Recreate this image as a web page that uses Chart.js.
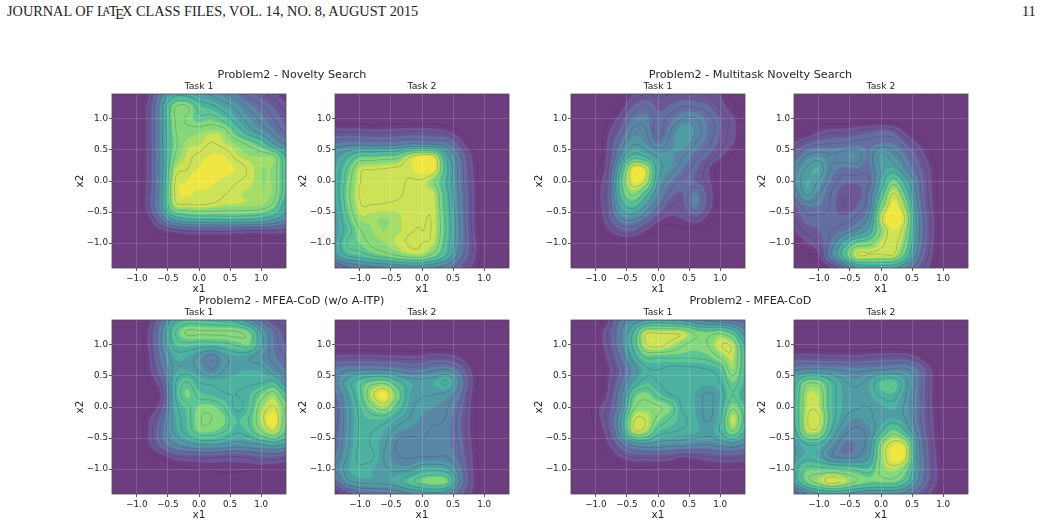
<!DOCTYPE html>
<html>
<head>
<meta charset="utf-8">
<title>Problem2 density plots</title>
<script src="https://cdn.jsdelivr.net/npm/chart.js"></script>
<style>
  html, body { margin: 0; background: #fff; }
  body { position: relative; width: 1040px; height: 524px; overflow: hidden; }
  canvas { position: absolute; }
  .head { position: absolute; top: 3px; font: 14.3px "Liberation Serif", serif; color: #222; white-space: nowrap; }
  .head i { font-style: normal; position: relative; }
  .sup { position: absolute; width: 400px; text-align: center; font: 11.2px "DejaVu Sans", sans-serif; color: #262626; line-height: 14px; }
</style>
</head>
<body>
<div class="head" style="left:7px">JOURNAL OF L<i style="font-size:10.2px;top:-2px;margin-left:-3px;margin-right:-1.5px">A</i>T<i style="top:3px;margin-left:-2px;margin-right:-2px">E</i>X CLASS FILES, VOL. 14, NO. 8, AUGUST 2015</div>
<div class="head" style="left:1022px">11</div>
<script>
// x and y positions of the density samples
const gridAxis = [-1.4, -1.2, -1.0, -0.8, -0.6, -0.4, -0.2, 0, 0.2, 0.4, 0.6, 0.8, 1.0, 1.2, 1.4];
const gridRowsY = [1.4, 1.2, 1.0, 0.8, 0.6, 0.4, 0.2, 0, -0.2, -0.4, -0.6, -0.8, -1.0, -1.2, -1.4];
const tickValues = [-1, -0.5, 0, 0.5, 1];

// density per panel, top row first, in contour level units
const noveltyTask1 = [
  [0,0,0,1.0,3.5,5.2,5.2,4.7,4.4,3.8,3.0,2.4,1.8,1.2,.7],
  [0,0,0,1.5,4.3,7.3,7.6,6.2,5.7,5,4.3,3.3,2.6,2,1.2],
  [0,0,0,1.5,4.3,7.4,7.4,6.7,6.9,6.2,5,4.1,3.3,2.5,1.8],
  [0,0,0,1.5,4.3,7.3,7.7,7.9,8.1,7.9,6.4,5,4.1,3.2,2.3],
  [0,0,0,1.5,4.3,7.1,8.1,8.2,8.6,8.3,7.9,7.3,6.3,4.6,3.4],
  [0,0,0,1.5,4.2,7.4,8.3,8.7,9.05,9,8.35,8.05,7.95,7.75,5.6],
  [0,0,0,1.5,4.2,8,8.5,9.05,9.5,9.3,8.95,8.45,8,7.85,6.1],
  [0,0,0,1.5,4.3,8.4,9,9.5,9.15,8.85,8.6,8.4,8,7.85,6.1],
  [0,0,0,1.6,4.4,8.45,9.1,8.8,8.75,8.6,8.35,8.15,8,7.85,5.9],
  [0,0,0,1.7,4.4,8,8.35,8.45,8.35,8.15,8.1,8.05,7.95,7.2,5],
  [0,0,0,.9,3,5,5.7,5.9,5.9,6,6,5.9,5.6,5,4],
  [0,0,0,.3,.9,1.3,1.6,1.7,1.7,1.7,1.6,1.5,1.5,1.5,1.4],
  [0,0,0,0,0,0,0,0,0,0,0,0,0,0,0],
  [0,0,0,0,0,0,0,0,0,0,0,0,0,0,0],
  [0,0,0,0,0,0,0,0,0,0,0,0,0,0,0]
];
const noveltyTask2 = [
  [0,0,0,0,0,0,0,0,0,0,0,0,0,0,0],
  [0,0,0,0,0,0,0,0,0,0,0,0,0,0,0],
  [0,0,0,0,0,0,0,0,0,0,0,0,0,0,0],
  [1.4,1.4,1.4,1.3,1.3,1.4,1.5,1.5,1.4,1.1,.5,0,0,0,0],
  [3,3.2,3.2,3.1,3.1,3.2,3.5,3.5,3.3,3,1.6,.3,0,0,0],
  [4.5,5.5,6.6,6.7,6.9,7,8.35,9,8.6,5,2.9,1,0,0,0],
  [5,6.6,8.3,8.45,8.55,8.7,8.85,9.4,9.1,5.8,3.2,1.2,0,0,0],
  [5,7,8.5,8.9,8.9,8.8,8.45,8.45,7.6,5.5,3.2,1.3,0,0,0],
  [5,7.2,8.6,8.9,8.9,8.7,8.4,8.4,8.2,5.8,3.4,1.4,0,0,0],
  [4.8,7,8.45,8.5,8.45,8.4,8.4,8.4,8.3,6,3.5,1.4,0,0,0],
  [4.5,6.5,8.05,8.05,8,8.15,8.45,8.5,8.35,6.2,3.6,1.4,0,0,0],
  [4.6,6,7.4,8,8,8.15,8.5,8.55,8.35,6.3,3.7,1.5,0,0,0],
  [4.8,6.6,7,7.7,8,8.3,8.6,8.55,8.15,6,3.6,1.6,.2,0,0],
  [4.5,5.6,6,6.6,7,7.5,7.9,7.9,7,5.5,3.2,1.5,.2,0,0],
  [1.5,2.5,3,3.3,3.5,3.8,4,4,3.6,3,2,1,.1,0,0]
];
const multitaskTask1 = [
  [0,0,0,0,0,1.1,1.5,1.4,1.5,1.6,1.6,1.5,1,.3,0],
  [0,0,0,0,.6,2,2.6,1.8,2.1,2.5,2.4,2.1,1.4,.6,0],
  [0,0,0,.4,1.5,3,3.2,2.3,2.8,3.5,3.6,2.8,2,1.2,.2],
  [0,0,0,.9,2.2,3.7,3.6,2.1,3.5,4.4,3.9,3,2,1.2,.6],
  [0,0,0,1.2,3,4.4,4,3,3.8,4.3,3.5,2.7,1.8,1.1,.3],
  [0,0,0,1.3,3.8,6,5.4,4.4,4.1,3.6,2.7,2,1.2,.4,0],
  [0,0,.3,1.6,5.5,9,8.6,5,4,3,2.2,1.2,.2,0,0],
  [0,0,.6,1.9,6.3,9,8.4,4.6,3.1,2.3,2,1.3,.1,0,0],
  [0,0,.7,2,6,7.8,6.2,3.8,2.3,2,3.1,1.7,.1,0,0],
  [0,0,.6,1.9,5,6,4.5,2.9,1.5,1.8,3.1,1.6,.1,0,0],
  [0,0,.4,1.6,3.5,3.8,2.8,1.4,.9,1.1,1.6,.8,0,0,0],
  [0,0,.1,.9,1.8,1.9,1,.3,.2,.3,.3,.1,0,0,0],
  [0,0,0,0,.3,.2,0,0,0,0,0,0,0,0,0],
  [0,0,0,0,0,0,0,0,0,0,0,0,0,0,0],
  [0,0,0,0,0,0,0,0,0,0,0,0,0,0,0]
];
const multitaskTask2 = [
  [0,0,0,0,0,0,0,0,0,0,0,0,0,0,0],
  [0,0,0,0,0,0,0,0,0,0,0,0,0,0,0],
  [0,0,0,0,0,0,0,0,0,0,0,0,0,0,0],
  [0,.3,1,1.3,1.3,1.6,1.8,2.1,1.8,.8,.1,0,0,0,0],
  [1.2,2,2.4,2.5,2.6,2.8,2.8,3,3,2,1,.2,0,0,0],
  [2.4,3.6,4,3.6,3.9,4,3,4.8,4,3,1.8,.6,0,0,0],
  [3.5,4.6,5,3.4,2.9,3,2.8,4.6,5,3.6,2.3,1,0,0,0],
  [3.8,5,4.4,2.9,2.2,2.2,2.4,4.8,7,5,2.8,1.1,0,0,0],
  [3,4.8,3.6,2.5,1.6,1.7,2.8,5.8,8.6,6.3,3,1.2,0,0,0],
  [2,3,3,2.4,1.5,2,3,7,9.2,7.5,3.4,1.3,0,0,0],
  [1.5,2.3,2.3,2.3,2.2,2.7,3.8,8.3,9.6,8.3,3.8,1.5,.1,0,0],
  [1,1.7,2,2.5,3,3.7,5,7.6,9,7.8,3.8,1.5,.1,0,0],
  [.4,1,1.6,3,5,6.8,7.2,8.3,8.8,7.3,3.6,1.4,.1,0,0],
  [0,.3,.9,3.4,6,8.4,8.5,8.4,8.4,6.3,3,1.2,.1,0,0],
  [0,0,.1,1,2.4,4.5,5,5,4.8,3.6,2,.9,0,0,0]
];
const mfeaNoItpTask1 = [
  [0,0,0,.8,3,5.3,6,6,5.8,5.6,5.3,4,2.6,1.5,1],
  [0,0,0,1.2,3.6,6.3,7.6,7.6,7.6,7.6,7.6,7,4.6,2.8,1.6],
  [0,0,0,1.2,3.6,5.8,6.2,6,6,6.2,6.6,6.9,4.8,3,2],
  [0,0,0,1,3.2,5,5,4.2,3.1,4.3,4.9,4.6,4,3.2,2.5],
  [0,0,0,.9,2.6,4.7,5,4.4,3.6,4.5,4.9,5,4.9,3.9,3],
  [0,0,0,.5,1.8,5.2,6.5,5.5,5.3,5.2,5.3,5.3,5.4,5.8,4],
  [0,0,0,.2,1.2,5.2,7.1,6.2,5.9,5.6,5.5,5.9,7,7.9,6],
  [0,0,0,.4,1.7,5,6.2,7.1,7.2,6.5,5.3,6,7.9,8.6,7.3],
  [0,0,0,1,2.4,4.8,6,7.4,7.5,7.1,6,6.5,8.2,9.4,7],
  [0,0,0,1.1,2.8,4.6,5.8,7,7,6.5,5.6,6.1,7.4,8.4,6.6],
  [0,0,0,1,2.4,3.6,4.2,4.6,4.7,4.5,4.1,4.3,4.6,5,4.5],
  [0,0,0,.1,.7,1.4,1.6,1.7,1.7,1.5,1.5,1.7,2,2,1.7],
  [0,0,0,0,0,.1,.4,.5,.6,.7,.7,.6,.6,.5,.5],
  [0,0,0,0,0,0,0,0,0,0,0,0,0,0,0],
  [0,0,0,0,0,0,0,0,0,0,0,0,0,0,0]
];
const mfeaNoItpTask2 = [
  [0,0,0,0,0,0,0,0,0,0,0,0,0,0,0],
  [0,0,0,0,0,0,0,0,0,0,0,0,0,0,0],
  [0,0,0,0,0,0,0,0,0,0,0,0,0,0,0],
  [1.3,1.4,1.4,1.4,1.3,1.3,1.2,1.3,1.6,1.5,1,.1,0,0,0],
  [3,3.4,3.5,3.6,3.5,3.3,2.9,3,3.4,3.5,2.6,.9,0,0,0],
  [3.6,5,6.2,7,7.2,5.9,5,4.8,5,5.6,3.6,1.2,0,0,0],
  [2.8,4.6,6.3,8.4,9.2,7.3,5,4.6,4.5,4.2,3,1,0,0,0],
  [2.2,4.2,5.8,7.3,8,6.3,4.8,4.2,4,3.6,2.5,.9,0,0,0],
  [2.2,4.1,5.6,6,5.9,5,4.4,3.9,3.7,3.4,2.2,.9,0,0,0],
  [2.4,4.2,5.6,5.5,5,4.1,3.8,3.7,3.3,3.2,2.2,.9,0,0,0],
  [2.6,4.3,5.6,5.4,4.6,3.4,3.1,3.4,3.2,3.2,2.4,1,0,0,0],
  [3,4.6,5.7,5.6,4.4,3.6,3.4,3.5,3.5,3.5,2.6,1.1,0,0,0],
  [3.6,4.9,5.3,5,4.6,4.3,4.4,5.2,5.3,4.9,3.2,1.2,.1,0,0],
  [2.4,4.2,4.7,4.8,4.8,5.2,6.2,7,7.4,7,3.6,1.3,.1,0,0],
  [.3,1.5,2.4,2.6,2.7,3,3.6,4,4.3,3.8,2.4,1,.1,0,0]
];
const mfeaTask1 = [
  [0,0,0,1,3,4,4.6,5,4.8,4.4,3.9,3.3,3,2.7,2.5],
  [0,0,.5,1.6,3.5,5.6,8.3,8.4,8.4,8.3,7.3,7,7.3,6.3,4],
  [0,0,.5,1.5,3.4,5.8,8.4,8.8,8.3,7.6,7.2,7.5,8.5,8.3,5.5],
  [0,0,.3,1.2,2.8,5,6.6,6.6,6.6,6.6,6.6,6.8,7.6,8.3,6],
  [0,0,0,.9,2.2,4,5.3,5.5,5.2,5.2,5.3,5.5,6,8,5.8],
  [0,0,0,1,2.6,4.8,5.9,5.5,5.2,5.2,5.2,5.2,5.5,7,5.8],
  [0,0,.2,1.2,3.3,6.5,7.2,6.2,5.5,5.2,5,4.4,5,6.5,5.2],
  [0,0,.8,1.6,3.6,7.2,7.8,7.6,7,5.3,5,4.3,5.2,7.3,6],
  [0,0,.7,1.8,4.5,8.3,8.5,7.2,6.4,5.7,5.1,4.4,5.4,8.4,6.3],
  [0,0,.5,1.5,4.2,8.1,8,6,5.6,5.3,5.1,4.8,5.5,7.4,5.5],
  [0,0,.1,1,2.5,3.9,4.3,4.1,3.9,3.9,3.7,3.6,3.9,4.2,3.6],
  [0,0,0,.3,1.1,1.6,1.6,1.7,1.5,1.1,1.3,1.5,1.7,1.7,1.5],
  [0,0,0,0,.1,.4,.4,.3,.2,0,.2,.4,.5,.5,.5],
  [0,0,0,0,0,0,0,0,0,0,0,0,0,0,0],
  [0,0,0,0,0,0,0,0,0,0,0,0,0,0,0]
];
const mfeaTask2 = [
  [0,0,0,0,0,0,0,0,0,0,0,0,0,0,0],
  [0,0,0,0,0,0,0,0,0,0,0,0,0,0,0],
  [0,0,0,0,0,0,0,0,0,0,0,0,0,0,0],
  [1.5,1.6,1.5,1.4,1.4,1.3,1.5,1.6,1.7,1.6,1,.2,0,0,0],
  [3.4,3.7,3.7,3.6,3.4,3.2,3.4,3.5,3.7,3.7,2.8,1.1,.1,0,0],
  [5.3,7.2,7.2,5.8,4.7,4.2,4.9,6,6.2,4.8,3,1.2,.1,0,0],
  [5.5,8.1,8.1,6,4.9,4.8,4.9,5.7,5.9,4.5,2.9,1.2,.1,0,0],
  [5.7,8.2,8.2,6,4.9,4.6,4.5,4.9,5.1,4.3,2.9,1.2,.1,0,0],
  [5.6,8.4,8.7,6.1,4.6,3.9,4.3,4.8,5.1,4.5,2.8,1.3,.2,0,0],
  [5.2,8,8,5.4,3.8,3.3,3.8,5.5,7.2,5.6,3.2,1.4,.2,0,0],
  [4.5,5.5,5.5,4.2,3,3.1,4,7.5,8.9,8.4,3.8,1.6,.3,0,0],
  [4.5,5.2,4.9,3.7,3.3,3.5,4.5,7.7,9.3,8.7,4,1.7,.4,0,0],
  [5.2,6.8,6.8,6.7,6.5,6.3,6,7.7,8.2,7.2,3.9,1.8,.5,0,0],
  [5,7,8,8.9,8.3,7.5,7,7,7.1,6,3.5,1.7,.5,0,0],
  [2,3.5,4.5,4.8,4.7,4.2,3.8,3.8,3.9,3.2,2,1,.2,0,0]
];

// contour thresholds and the viridis fill above each one, base colour first
const bandLevels = [1, 2, 3, 4, 5, 6, 7, 8, 8.25, 9];
const bandColors = ['#6e3d80', '#6c5695', '#656ea1', '#5a86a5', '#519ba5', '#4cb1a1', '#5dc594', '#85d77c', '#a5dd68', '#cde256', '#f0e642'];
const lineLevels = [0.5, 1.5, 2.5, 3.5, 4.5, 5.5, 6.5, 7.5, 8.55];

const panels = [
  { title: 'Task 1', left: 112, top: 94, values: noveltyTask1 },
  { title: 'Task 2', left: 335, top: 94, values: noveltyTask2 },
  { title: 'Task 1', left: 571, top: 94, values: multitaskTask1 },
  { title: 'Task 2', left: 794, top: 94, values: multitaskTask2 },
  { title: 'Task 1', left: 112, top: 320, values: mfeaNoItpTask1 },
  { title: 'Task 2', left: 335, top: 320, values: mfeaNoItpTask2 },
  { title: 'Task 1', left: 571, top: 320, values: mfeaTask1 },
  { title: 'Task 2', left: 794, top: 320, values: mfeaTask2 }
];

const figureTitles = [
  { text: 'Problem2 - Novelty Search', x: 292, y: 75 },
  { text: 'Problem2 - Multitask Novelty Search', x: 750.5, y: 75 },
  { text: 'Problem2 - MFEA-CoD (w/o A-ITP)', x: 291.5, y: 301 },
  { text: 'Problem2 - MFEA-CoD', x: 750.5, y: 301 }
];

const PLOT = 174, AXIS_Y = 38, AXIS_X = 28, TITLE_H = 18, SUBDIV = 8;

function catmull(a, b, c, d, t) {
  return 0.5 * (2 * b + (c - a) * t + (2 * a - 5 * b + 4 * c - d) * t * t + (3 * b - a - 3 * c + d) * t * t * t);
}

// resample the dataset's grid so the contours come out round
function fineGrid(points) {
  const n = gridAxis.length;
  const at = (r, c) => points[Math.max(0, Math.min(n - 1, r)) * n + Math.max(0, Math.min(n - 1, c))].v;
  const size = (n - 1) * SUBDIV + 1;
  const out = [];
  for (let i = 0; i < size; i++) {
    const r = Math.floor(i / SUBDIV), tr = i / SUBDIV - r;
    const row = [];
    for (let j = 0; j < size; j++) {
      const c = Math.floor(j / SUBDIV), tc = j / SUBDIV - c;
      const col = [-1, 0, 1, 2].map(k => catmull(at(r + k, c - 1), at(r + k, c), at(r + k, c + 1), at(r + k, c + 2), tc));
      row.push(Math.max(0, catmull(col[0], col[1], col[2], col[3], tr)));
    }
    out.push(row);
  }
  return out;
}

function fineAxis(values) {
  const out = [];
  for (let i = 0; i < values.length - 1; i++) {
    for (let s = 0; s < SUBDIV; s++) out.push(values[i] + (values[i + 1] - values[i]) * s / SUBDIV);
  }
  out.push(values[values.length - 1]);
  return out;
}

const contourPlugin = {
  id: 'contour',
  beforeDatasetsDraw(chart) {
    const { ctx, chartArea, scales } = chart;
    const grid = fineGrid(chart.data.datasets[0].data);
    const px = fineAxis(gridAxis).map(v => scales.x.getPixelForValue(v));
    const py = fineAxis(gridRowsY).map(v => scales.y.getPixelForValue(v));
    const size = px.length;

    ctx.save();
    ctx.beginPath();
    ctx.rect(chartArea.left, chartArea.top, chartArea.width, chartArea.height);
    ctx.clip();

    ctx.fillStyle = bandColors[0];
    ctx.fillRect(chartArea.left, chartArea.top, chartArea.width, chartArea.height);

    const cellCorners = (i, j) => [
      [px[j], py[i], grid[i][j]], [px[j + 1], py[i], grid[i][j + 1]],
      [px[j + 1], py[i + 1], grid[i + 1][j + 1]], [px[j], py[i + 1], grid[i + 1][j]]
    ];
    const cross = (a, b, level) => {
      const t = (level - a[2]) / (b[2] - a[2]);
      return [a[0] + (b[0] - a[0]) * t, a[1] + (b[1] - a[1]) * t];
    };

    // filled bands, lowest first
    bandLevels.forEach((level, b) => {
      ctx.beginPath();
      for (let i = 0; i < size - 1; i++) {
        for (let j = 0; j < size - 1; j++) {
          const c = cellCorners(i, j);
          const poly = [];
          for (let k = 0; k < 4; k++) {
            const p = c[k], q = c[(k + 1) % 4];
            if (p[2] >= level) poly.push(p);
            if ((p[2] >= level) !== (q[2] >= level)) poly.push(cross(p, q, level));
          }
          if (poly.length < 3) continue;
          ctx.moveTo(poly[0][0], poly[0][1]);
          for (let k = 1; k < poly.length; k++) ctx.lineTo(poly[k][0], poly[k][1]);
          ctx.closePath();
        }
      }
      ctx.fillStyle = bandColors[b + 1];
      ctx.fill();
    });

    // thin contour lines between the band edges
    ctx.beginPath();
    lineLevels.forEach(level => {
      for (let i = 0; i < size - 1; i++) {
        for (let j = 0; j < size - 1; j++) {
          const c = cellCorners(i, j);
          const hits = [];
          for (let k = 0; k < 4; k++) {
            const p = c[k], q = c[(k + 1) % 4];
            if ((p[2] >= level) !== (q[2] >= level)) hits.push(cross(p, q, level));
          }
          for (let h = 0; h + 1 < hits.length; h += 2) {
            ctx.moveTo(hits[h][0], hits[h][1]);
            ctx.lineTo(hits[h + 1][0], hits[h + 1][1]);
          }
        }
      }
    });
    ctx.strokeStyle = 'rgba(40,50,70,0.22)';
    ctx.lineWidth = 0.7;
    ctx.lineCap = 'round';
    ctx.stroke();
    ctx.restore();
  },
  afterDraw(chart) {
    const { ctx, chartArea } = chart;
    ctx.save();
    ctx.strokeStyle = '#4a4a4a';
    ctx.lineWidth = 0.8;
    ctx.strokeRect(chartArea.left, chartArea.top, chartArea.width, chartArea.height);
    ctx.restore();
  }
};

function tickLabel(value) {
  return (value < 0 ? '\u2212' : '') + Math.abs(value).toFixed(1);
}

function axisOptions(name, size) {
  return {
    type: 'linear',
    min: -1.4,
    max: 1.4,
    afterBuildTicks(scale) { scale.ticks = tickValues.map(v => ({ value: v })); },
    afterFit(scale) {
      if (name === 'x') scale.height = size; else scale.width = size;
    },
    grid: { color: 'rgba(255,255,255,0.2)', lineWidth: 0.8, z: 1, tickColor: '#333', tickLength: 3, tickWidth: 0.8 },
    border: { display: false },
    ticks: {
      autoSkip: false,
      maxRotation: 0,
      padding: name === 'x' ? 2 : 1,
      color: '#262626',
      font: { family: '"DejaVu Sans"', size: 8.8 },
      callback: tickLabel
    },
    title: { display: true, text: name === 'x' ? 'x1' : 'x2', color: '#262626', padding: 0, font: { family: '"DejaVu Sans"', size: 10.5 } }
  };
}

panels.forEach(panel => {
  const canvas = document.createElement('canvas');
  canvas.width = AXIS_Y + PLOT + 2;
  canvas.height = TITLE_H + PLOT + AXIS_X;
  canvas.style.left = (panel.left - AXIS_Y) + 'px';
  canvas.style.top = (panel.top - TITLE_H) + 'px';
  document.body.appendChild(canvas);

  const points = [];
  gridRowsY.forEach((y, r) => gridAxis.forEach((x, c) => points.push({ x, y, v: panel.values[r][c] })));

  new Chart(canvas, {
    type: 'scatter',
    data: { datasets: [{ data: points, pointRadius: 0, showLine: false }] },
    options: {
      responsive: false,
      animation: false,
      layout: { padding: { right: 2 } },
      plugins: {
        legend: { display: false },
        tooltip: { enabled: false },
        title: {
          display: true,
          text: panel.title,
          fullSize: false,
          color: '#262626',
          padding: { top: 5, bottom: 1 },
          font: { family: '"DejaVu Sans"', size: 9.3, weight: 'normal', lineHeight: 12 / 9.3 }
        }
      },
      scales: { x: axisOptions('x', AXIS_X), y: axisOptions('y', AXIS_Y) }
    },
    plugins: [contourPlugin]
  });
});

figureTitles.forEach(t => {
  const div = document.createElement('div');
  div.className = 'sup';
  div.textContent = t.text;
  div.style.left = (t.x - 200) + 'px';
  div.style.top = (t.y - 7) + 'px';
  document.body.appendChild(div);
});
</script>
</body>
</html>
